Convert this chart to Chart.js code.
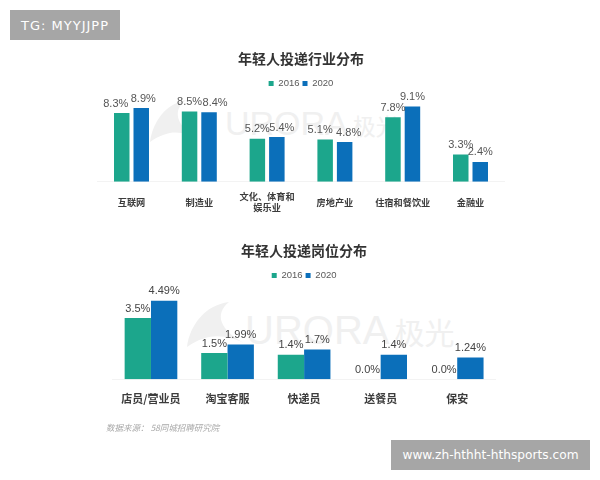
<!DOCTYPE html>
<html>
<head>
<meta charset="utf-8">
<script src="https://cdn.jsdelivr.net/npm/chart.js@4/dist/chart.umd.js"></script>
<style>
  html, body { margin: 0; padding: 0; background: #fff; }
  body { position: relative; width: 600px; height: 480px; overflow: hidden; font-family: "Noto Sans CJK SC", sans-serif; }
  canvas { position: absolute; left: 0; filter: blur(0.35px); }
  #industryChart { top: 40px; }
  #jobChart { top: 232px; }
  .banner { position: absolute; background: #a6a6a6; color: #fff; font-family: "DejaVu Sans", sans-serif; display: flex; align-items: center; justify-content: center; }
  #bannerTop { left: 10px; top: 10px; width: 110px; height: 30px; font-size: 13px; letter-spacing: 1px; }
  #bannerBottom { left: 391px; top: 440px; width: 199px; height: 30px; font-size: 12.2px; }
  .mark { position: absolute; color: #f0f0f0; font-family: "Liberation Sans", sans-serif; white-space: nowrap; line-height: 1; }
  .mark span { font-family: "Noto Sans CJK SC", sans-serif; margin-left: 5px; }
  #source { position: absolute; left: 106px; top: 421px; font-size: 8.5px; font-style: italic; color: #a8a8a8; }
</style>
</head>
<body>
<svg style="position:absolute;left:0;top:0" width="600" height="480">
  <path d="M150 142 C153 122 165 104 186 100 C172 110 176 126 197 138 C183 132 170 128 150 142 Z" fill="#f0f0f0"/>
  <path d="M187 347 C190 325 205 305 229 302 C214 314 220 330 244 343 C228 336 210 331 187 347 Z" fill="#f0f0f0"/>
</svg>
<div class="mark" style="left:225px;top:106px;font-size:34px">URORA<span style="font-size:23px">极光</span></div>
<div class="mark" style="left:245px;top:310px;font-size:40px">URORA<span style="font-size:30px">极光</span></div>

<canvas id="industryChart" width="600" height="200"></canvas>
<canvas id="jobChart" width="600" height="190"></canvas>

<div class="banner" id="bannerTop">TG: MYYJJPP</div>
<div class="banner" id="bannerBottom">www.zh-hthht-hthsports.com</div>
<div id="source">数据来源： 58同城招聘研究院</div>

<script>
// Values
const seriesNames = ["2016", "2020"];

const industryCategories = ["互联网", "制造业", ["文化、体育和", "娱乐业"], "房地产业", "住宿和餐饮业", "金融业"];
const industry2016 = [8.3, 8.5, 5.2, 5.1, 7.8, 3.3];
const industry2020 = [8.9, 8.4, 5.4, 4.8, 9.1, 2.4];
const industryLabels2016 = ["8.3%", "8.5%", "5.2%", "5.1%", "7.8%", "3.3%"];
const industryLabels2020 = ["8.9%", "8.4%", "5.4%", "4.8%", "9.1%", "2.4%"];

const jobCategories = ["店员/营业员", "淘宝客服", "快递员", "送餐员", "保安"];
const job2016 = [3.5, 1.5, 1.4, 0, 0];
const job2020 = [4.49, 1.99, 1.7, 1.4, 1.24];
const jobLabels2016 = ["3.5%", "1.5%", "1.4%", "0.0%", "0.0%"];
const jobLabels2020 = ["4.49%", "1.99%", "1.7%", "1.4%", "1.24%"];

const GREEN = "#1ca68c";
const BLUE = "#0b6fba";

// Text above every bar, there is no datalabels plugin in the sandbox
const barLabels = {
    id: "barLabels",
    afterDatasetsDraw(chart, args, opts) {
        const ctx = chart.ctx;
        ctx.save();
        ctx.font = opts.font;
        ctx.fillStyle = opts.color;
        ctx.textAlign = "center";
        ctx.textBaseline = "middle";
        chart.data.datasets.forEach((ds, d) => {
            chart.getDatasetMeta(d).data.forEach((bar, i) => {
                const nudge = opts.nudge ? opts.nudge[d][i] : 0;
                ctx.fillText(opts.texts[d][i], bar.x + nudge, bar.y - 9.5);
            });
        });
        ctx.restore();
    },
};

function drawChart(id, cfg) {
    return new Chart(document.getElementById(id), {
        type: "bar",
        plugins: [barLabels],
        data: {
            labels: cfg.categories,
            datasets: [
                { label: seriesNames[0], data: cfg.first, backgroundColor: GREEN },
                { label: seriesNames[1], data: cfg.second, backgroundColor: BLUE },
            ],
        },
        options: {
            responsive: false,
            animation: false,
            layout: { padding: cfg.padding },
            categoryPercentage: cfg.catPct,
            barPercentage: cfg.barPct,
            scales: {
                x: {
                    grid: { display: false },
                    border: { color: "#f3f3f3" },
                    ticks: {
                        color: "#3c3c3c",
                        padding: cfg.tickPadding,
                        crossAlign: "center",
                        maxRotation: 0,
                        autoSkip: false,
                        font: { family: "'Noto Sans CJK SC'", size: cfg.tickSize, weight: "bold", lineHeight: 1.15 },
                    },
                },
                y: { display: false, min: 0, max: cfg.yMax },
            },
            plugins: {
                title: {
                    display: true,
                    text: cfg.title,
                    color: "#333333",
                    padding: { top: 10, bottom: 9 },
                    font: { family: "'Noto Sans CJK SC'", size: 14, weight: "bold" },
                },
                legend: {
                    labels: {
                        usePointStyle: true,
                        pointStyle: "rect",
                        boxWidth: 5,
                        boxHeight: 5,
                        padding: 3,
                        color: "#595959",
                        font: { family: "'Liberation Sans'", size: 9.5 },
                    },
                },
                tooltip: { enabled: false },
                barLabels: { texts: cfg.texts, nudge: cfg.nudge, font: "11px 'Liberation Sans'", color: cfg.labelColor },
            },
        },
    });
}

drawChart("industryChart", {
    title: "年轻人投递行业分布",
    categories: industryCategories,
    first: industry2016,
    second: industry2020,
    texts: [industryLabels2016, industryLabels2020],
    nudge: [[-6, 0, 0, -5, 0, 0], [2, 6, 5, 4, 0, 0]],
    padding: { left: 97.6, right: 95.6, bottom: 15 },
    catPct: 0.575,
    barPct: 0.795,
    tickSize: 9.2,
    tickPadding: 7,
    yMax: 10.08,
    labelColor: "#555555",
});

drawChart("jobChart", {
    title: "年轻人投递岗位分布",
    categories: jobCategories,
    first: job2016,
    second: job2020,
    texts: [jobLabels2016, jobLabels2020],
    padding: { left: 112.7, right: 104.5, bottom: 0 },
    catPct: 0.688,
    barPct: 1,
    tickSize: 11,
    tickPadding: 11,
    yMax: 5.08,
    labelColor: "#444444",
});
</script>
</body>
</html>
